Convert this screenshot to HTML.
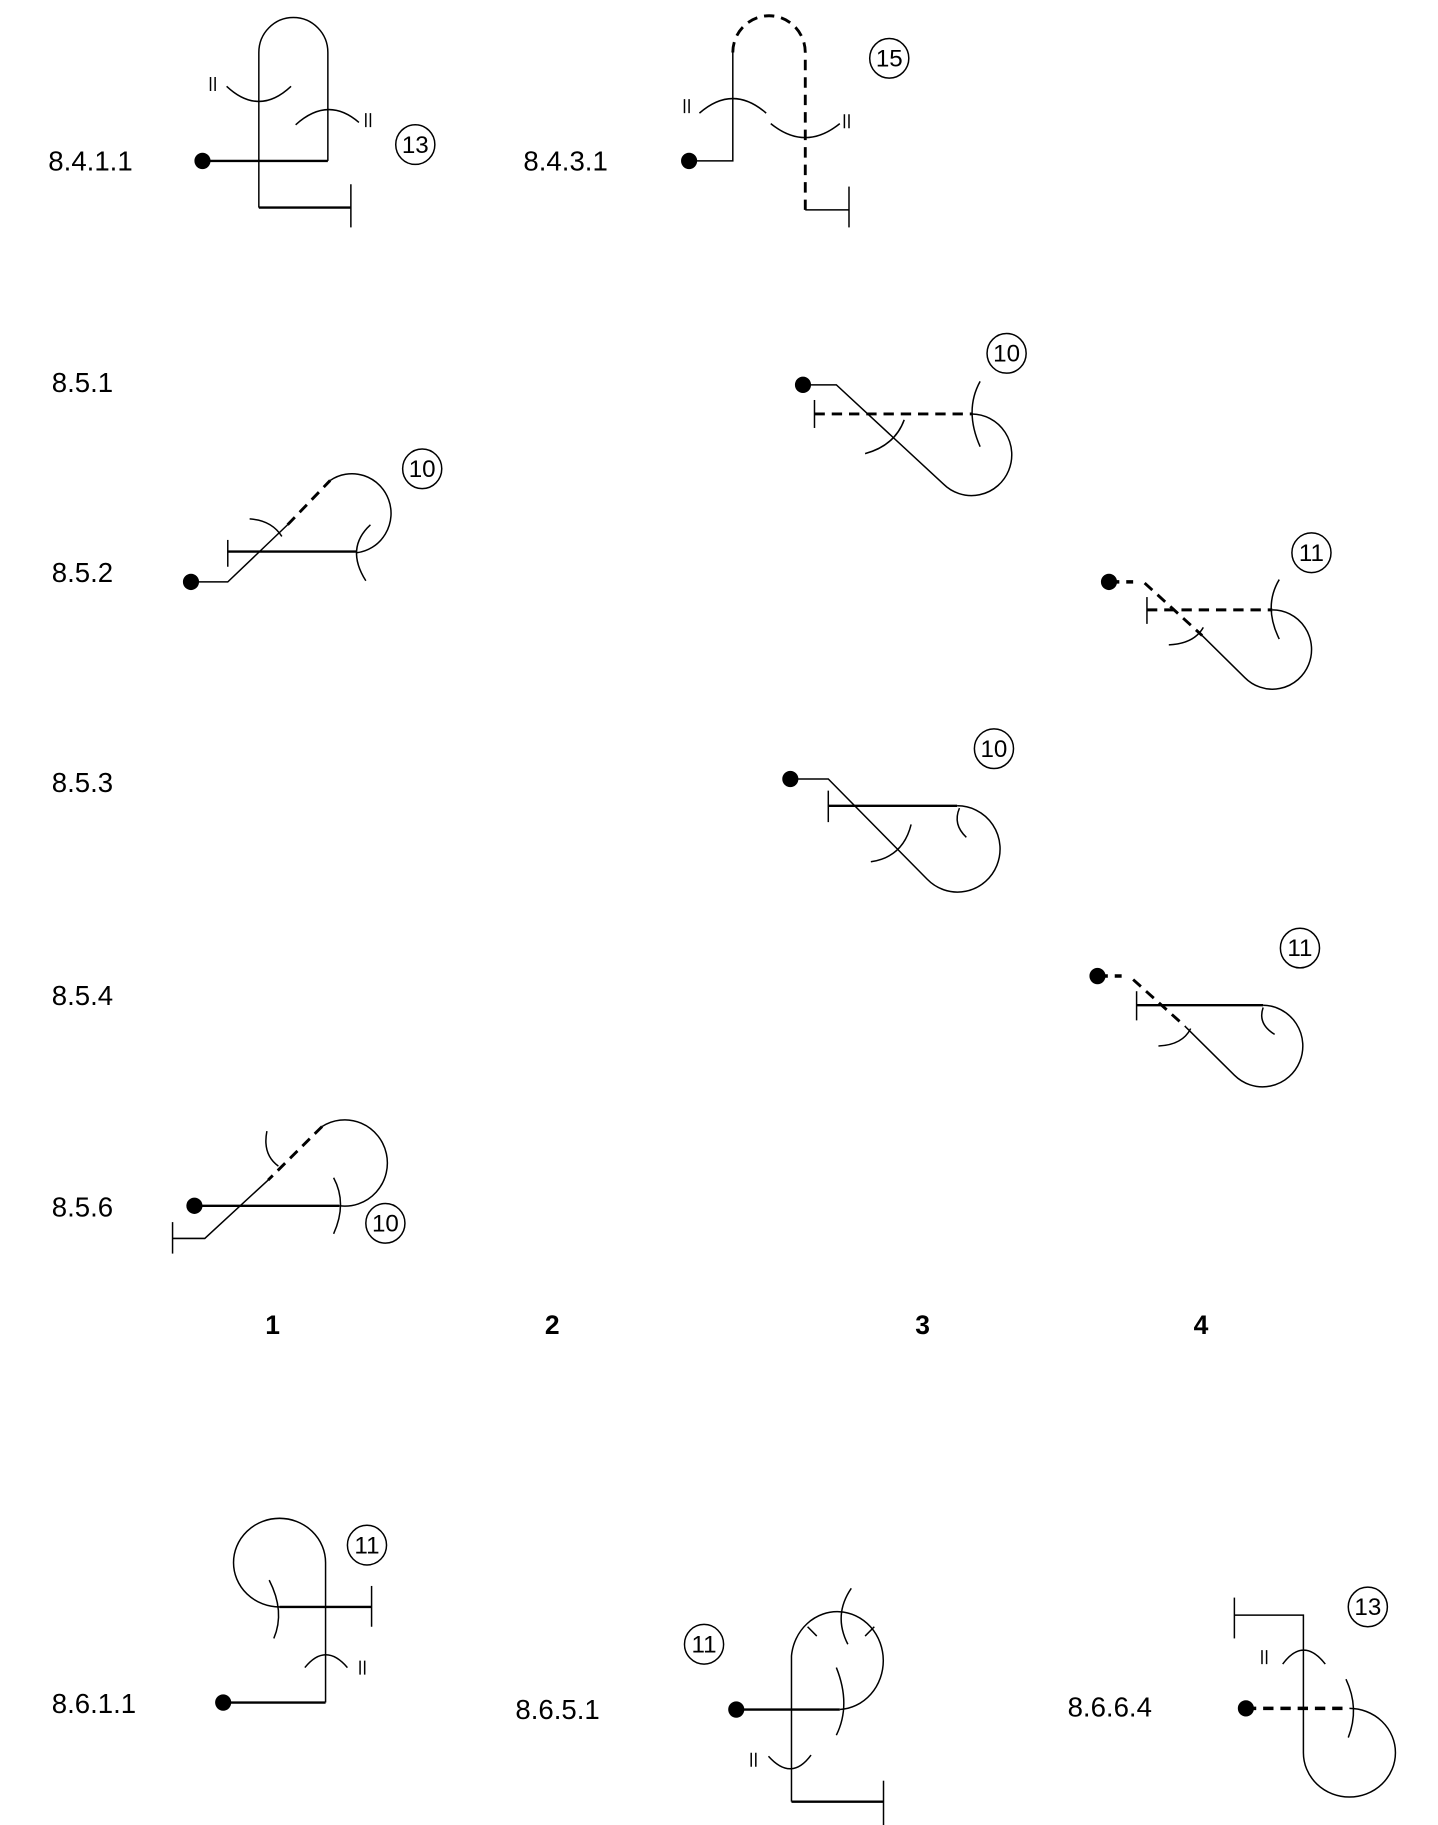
<!DOCTYPE html>
<html><head><meta charset="utf-8"><style>
html,body{margin:0;padding:0;background:#fff;}
svg{display:block;}
text{font-family:"Liberation Sans",sans-serif;fill:#000;}
</style></head><body>
<svg width="1438" height="1825" viewBox="0 0 1250 1565" preserveAspectRatio="none" xmlns="http://www.w3.org/2000/svg">
<g fill="none" stroke="#000" stroke-width="1.3">
<!-- 8.4.1.1 -->
<path d="M176,138 H285" stroke-width="2"/>
<path d="M285,138 V45 A30,30 0 0,0 225,45 V178"/>
<path d="M225,178 H305" stroke-width="2"/>
<line x1="305" y1="158" x2="305" y2="195"/>
<path d="M197,74 Q225,100 253,74"/>
<path d="M257,107 Q285,82 312,105"/>
<!-- 8.4.3.1 -->
<path d="M599,138 H637 V45"/>
<path d="M637,45 A31,31 0 0,1 700,45 V180" stroke-width="2.5" stroke-dasharray="9,6"/>
<path d="M700,180 H738"/>
<line x1="738" y1="160" x2="738" y2="195"/>
<path d="M608,97 Q637,72 666,97"/>
<path d="M670,106 Q700,130 730,106"/>
<!-- 8.5.1 col3 -->
<path d="M698,330 H727 L820,415 A35,35 0 1,0 845,355"/>
<path d="M708,355 H845" stroke-width="2.5" stroke-dasharray="9,6"/>
<line x1="708" y1="343" x2="708" y2="367"/>
<path d="M752,389 Q778,382 786,360"/>
<path d="M852,327 Q838,352 852,383"/>
<!-- 8.5.2 col1 -->
<path d="M166,499 H198 L250,450"/>
<path d="M250,450 L287,412" stroke-width="2.5" stroke-dasharray="9,6"/>
<path d="M287,412 A34,34 0 1,1 310,474"/>
<path d="M198,473 H310" stroke-width="2"/>
<line x1="198" y1="463" x2="198" y2="486"/>
<path d="M217,445 Q236,446 245,460"/>
<path d="M322,450 Q300,470 318,498"/>
<!-- 8.5.2 col4 -->
<path d="M964,499 H985" stroke-width="3" stroke-dasharray="9,6"/>
<path d="M995,500 L1045,545" stroke-width="2.5" stroke-dasharray="9,6"/>
<path d="M1045,545 L1082,581 A34,34 0 1,0 1106,523"/>
<path d="M997,523 H1106" stroke-width="2.5" stroke-dasharray="9,6"/>
<line x1="997" y1="512" x2="997" y2="535"/>
<path d="M1016,553 Q1038,552 1046,538"/>
<path d="M1112,497 Q1098,520 1112,548"/>
<!-- 8.5.3 col3 -->
<path d="M687,668 H720 L806,754 A37,37 0 1,0 832,691"/>
<path d="M720,691 H832" stroke-width="2"/>
<line x1="720" y1="678" x2="720" y2="705"/>
<path d="M757,739 Q785,735 792,707"/>
<path d="M834,693 Q828,707 840,718"/>
<!-- 8.5.4 col4 -->
<path d="M954,837 H975" stroke-width="3" stroke-dasharray="9,6"/>
<path d="M985,840 L1030,880" stroke-width="2.5" stroke-dasharray="9,6"/>
<path d="M1030,880 L1073,922 A35,35 0 1,0 1098,862"/>
<path d="M988,862 H1098" stroke-width="2"/>
<line x1="988" y1="850" x2="988" y2="875"/>
<path d="M1007,897 Q1028,896 1035,882"/>
<path d="M1098,864 Q1093,878 1108,887"/>
<!-- 8.5.6 col1 -->
<path d="M169,1034 H295" stroke-width="2"/>
<path d="M295,1034 A37,37 0 1,0 280,966"/>
<path d="M280,966 L233,1012" stroke-width="2.5" stroke-dasharray="9,6"/>
<path d="M233,1012 L178,1062 H150"/>
<line x1="150" y1="1048" x2="150" y2="1075"/>
<path d="M232,970 Q228,990 242,1000"/>
<path d="M290,1010 Q302,1032 290,1058"/>
<!-- 8.6.1.1 -->
<path d="M283,1460 V1340 A40,38 0 1,0 243,1378"/>
<path d="M194,1460 H283" stroke-width="2"/>
<path d="M243,1378 H323" stroke-width="2"/>
<line x1="323" y1="1360" x2="323" y2="1395"/>
<path d="M234,1355 Q248,1382 238,1405"/>
<path d="M265,1430 Q283,1408 302,1430"/>
<!-- 8.6.5.1 -->
<path d="M640,1466 H730" stroke-width="2"/>
<path d="M688,1545 V1420 A40,42 0 1,1 730,1466"/>
<path d="M688,1545 H768" stroke-width="2"/>
<line x1="768" y1="1527" x2="768" y2="1565"/>
<path d="M740,1362 Q724,1385 737,1410"/>
<path d="M727,1430 Q740,1462 727,1488"/>
<path d="M668,1506 Q688,1528 705,1505"/>
<path d="M702,1395 l8,8 M760,1395 l-8,8"/>
<!-- 8.6.6.4 -->
<path d="M1083,1465 H1173" stroke-width="3" stroke-dasharray="9,6"/>
<path d="M1073,1385 H1133 V1503 A40,38 0 1,0 1173,1465"/>
<line x1="1073" y1="1370" x2="1073" y2="1405"/>
<path d="M1115,1427 Q1133,1403 1152,1427"/>
<path d="M1170,1440 Q1182,1465 1172,1490"/>
<!-- circles -->
<circle cx="361" cy="124" r="17"/>
<circle cx="773" cy="50" r="17"/>
<circle cx="875" cy="303" r="17"/>
<circle cx="367" cy="402" r="17"/>
<circle cx="1140" cy="474" r="17"/>
<circle cx="864" cy="642" r="17"/>
<circle cx="1130" cy="813" r="17"/>
<circle cx="335" cy="1049" r="17"/>
<circle cx="319" cy="1325" r="17"/>
<circle cx="612" cy="1410" r="17"/>
<circle cx="1189" cy="1378" r="17"/>
<!-- || marks -->
<path d="M183,66 v12 M187,66 v12 M318,97 v12 M322,97 v12 M595,85 v12 M599,85 v12 M734,98 v12 M738,98 v12 M313,1424 v12 M317,1424 v12 M653,1503 v12 M657,1503 v12 M1097,1415 v12 M1101,1415 v12"/>
</g>
<g fill="#000">
<circle cx="176" cy="138" r="7"/><circle cx="599" cy="138" r="7"/>
<circle cx="698" cy="330" r="7"/><circle cx="166" cy="499" r="7"/>
<circle cx="964" cy="499" r="7"/><circle cx="687" cy="668" r="7"/>
<circle cx="954" cy="837" r="7"/><circle cx="169" cy="1034" r="7"/>
<circle cx="194" cy="1460" r="7"/><circle cx="640" cy="1466" r="7"/>
<circle cx="1083" cy="1465" r="7"/>
</g>
<g font-size="24">
<text x="42" y="146">8.4.1.1</text>
<text x="455" y="146">8.4.3.1</text>
<text x="45" y="336">8.5.1</text>
<text x="45" y="499">8.5.2</text>
<text x="45" y="679">8.5.3</text>
<text x="45" y="862">8.5.4</text>
<text x="45" y="1043">8.5.6</text>
<text x="45" y="1469">8.6.1.1</text>
<text x="448" y="1474">8.6.5.1</text>
<text x="928" y="1472">8.6.6.4</text>
</g>
<g font-size="21" text-anchor="middle">
<text x="361" y="131">13</text><text x="773" y="57">15</text>
<text x="875" y="310">10</text><text x="367" y="409">10</text>
<text x="1140" y="481">11</text><text x="864" y="649">10</text>
<text x="1130" y="820">11</text><text x="335" y="1056">10</text>
<text x="319" y="1332">11</text><text x="612" y="1417">11</text>
<text x="1189" y="1385">13</text>
</g>
<g font-size="23" font-weight="bold" text-anchor="middle">
<text x="237" y="1144">1</text><text x="480" y="1144">2</text>
<text x="802" y="1144">3</text><text x="1044" y="1144">4</text>
</g>
</svg>
</body></html>
